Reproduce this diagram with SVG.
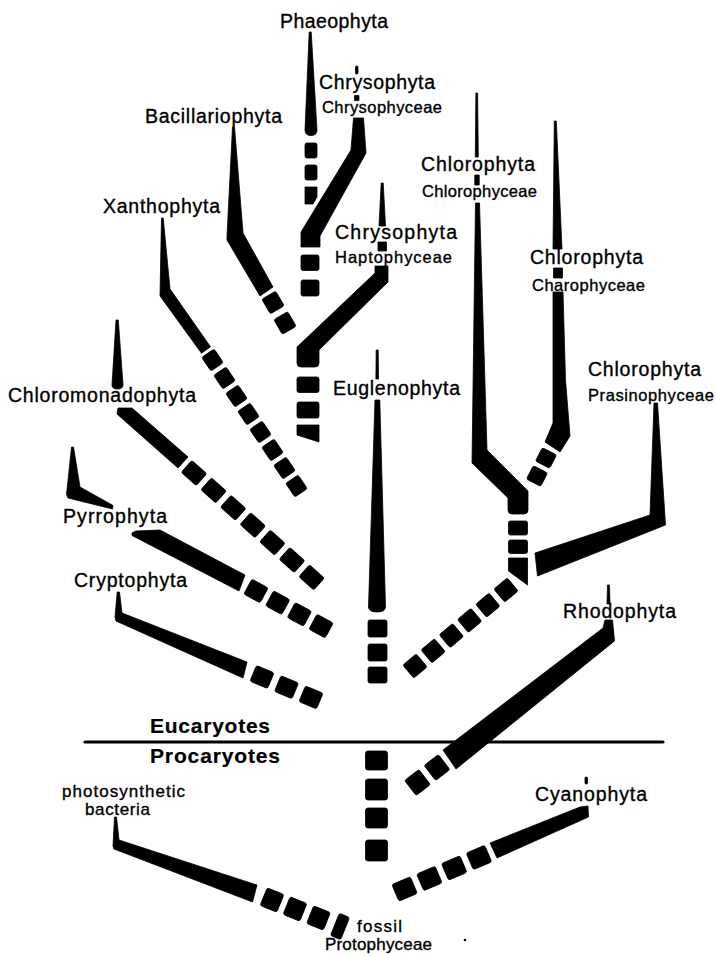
<svg xmlns="http://www.w3.org/2000/svg" width="716" height="956" viewBox="0 0 716 956">
<style>
.k{fill:#000;stroke:#000;stroke-width:0.8;stroke-linejoin:round}
.t{font-family:"Liberation Sans",Arial,Helvetica,sans-serif;font-size:19.5px;fill:#000;stroke:#000;stroke-width:0.35}
.s{font-size:16.5px}
.m{font-size:17px}
.b{font-weight:bold;font-size:21px;stroke-width:0.2}
.ln{stroke:#000;stroke-width:3.2;stroke-linecap:round;fill:none}
</style>
<rect width="716" height="956" fill="#fff"/>

<g id="divider">
<line class="ln" x1="85" y1="742" x2="663" y2="742"/>
<text class="t b" x="150" y="733" textLength="120" lengthAdjust="spacing">Eucaryotes</text>
<text class="t b" x="150" y="763" textLength="130" lengthAdjust="spacing">Procaryotes</text>
</g>

<g id="phaeophyta">
<text class="t" x="280" y="28" textLength="108" lengthAdjust="spacing">Phaeophyta</text>
<path class="k" d="M309.2,32 L311.2,32 L317,130 Q317,135.5 311,135.5 Q305,135.5 305,130 Z"/>
</g>

<g id="chrysophyceae">
<rect class="k" x="355.5" y="66" width="2.5" height="8" rx="1"/>
<text class="t" x="319" y="89" textLength="116" lengthAdjust="spacing">Chrysophyta</text>
<rect class="k" x="354.5" y="95.5" width="4.5" height="5"/>
<text class="t s" x="322" y="113" textLength="120" lengthAdjust="spacing">Chrysophyceae</text>
<path class="k" d="M353.5,118 L363.5,118 L366,153 L320,236 L320,247 L301,247 L301,232 L351,150 Z"/>
</g>

<g id="haptophyceae">
<path class="k" d="M381.2,183 L383.2,183 L385.5,226 L379,226 Z"/>
<text class="t" x="335" y="239" textLength="122" lengthAdjust="spacing">Chrysophyta</text>
<rect class="k" x="378" y="242" width="8.5" height="9"/>
<text class="t s" x="335" y="263" textLength="117" lengthAdjust="spacing">Haptophyceae</text>
<path class="k" d="M375,266 L388,266 L388,282 L319,350 L319,363 Q319,367 315,367 L301,367 Q297,367 297,363 L297,347 L375,273 Z"/>
</g>

<g id="bacillariophyta">
<text class="t" x="145" y="123" textLength="137" lengthAdjust="spacing">Bacillariophyta</text>
<path class="k" d="M232.5,127 L234.5,127 L243,233 L273,287 L260,296 L227,240 L227,236 Z"/>
</g>

<g id="xanthophyta">
<text class="t" x="103" y="213" textLength="117" lengthAdjust="spacing">Xanthophyta</text>
<path class="k" d="M161.5,218 L163.2,218 L170,289 L210.5,346.8 L201.5,353.2 L160,296 Z"/>
</g>

<g id="chloromonadophyta">
<path class="k" d="M116,320 L118.3,320 L123,385 Q123,389 117.5,389 Q112,389 112,385 Z"/>
<text class="t" x="8" y="402" textLength="188" lengthAdjust="spacing">Chloromonadophyta</text>
<path class="k" d="M118,408 L132,408 L188,457 L178,468 L117,414 Z"/>
</g>

<g id="pyrrophyta">
<path class="k" d="M71.5,447 L73.5,447 L80,487 L113,505.5 L112.5,509 L68,498 L66.5,494.5 Z"/>
<text class="t" x="63" y="523" textLength="104" lengthAdjust="spacing">Pyrrophyta</text>
<path class="k" d="M132,533 L136,531 L160,530 L245,575 L239,591 L132,535.5 Z"/>
</g>

<g id="cryptophyta">
<text class="t" x="74" y="587" textLength="113" lengthAdjust="spacing">Cryptophyta</text>
<path class="k" d="M117.2,592 L119.5,592 L122,613 L247,662 L243,678 L116,621 L115,617 Z"/>
</g>

<g id="euglenophyta">
<path class="k" d="M376.2,350 L378.2,350 L378.5,379 L375.9,379 Z"/>
<text class="t" x="333" y="395" textLength="127" lengthAdjust="spacing">Euglenophyta</text>
<path class="k" d="M375,400 L379.8,400 L385.5,607 Q385.5,612 377,612 Q368.5,612 368.5,607 Z"/>
</g>

<g id="chlorophyceae">
<path class="k" d="M475.9,93 L477.6,93 L478.3,157 L475.3,157 Z"/>
<text class="t" x="421" y="171" textLength="114" lengthAdjust="spacing">Chlorophyta</text>
<rect class="k" x="474.8" y="175" width="4.4" height="10"/>
<text class="t s" x="422" y="197" textLength="115" lengthAdjust="spacing">Chlorophyceae</text>
<path class="k" d="M475.5,203 L479.5,203 L487,450 L528,491 L528,510 Q528,514 524,514 L512,514 Q508,514 508,510 L508,498 L472,463 Z"/>
</g>

<g id="charophyceae">
<path class="k" d="M554.3,121 L556.3,121 L562,249 L553,249 Z"/>
<text class="t" x="530" y="264" textLength="113" lengthAdjust="spacing">Chlorophyta</text>
<rect class="k" x="553.5" y="268" width="9" height="10"/>
<text class="t s" x="532" y="291" textLength="113" lengthAdjust="spacing">Charophyceae</text>
<path class="k" d="M553,292 L563,292 L565.5,380 L570,436 L560,452 L545,442 L553,423 Z"/>
</g>

<g id="prasinophyceae">
<text class="t" x="588" y="376" textLength="113" lengthAdjust="spacing">Chlorophyta</text>
<text class="t s" x="588" y="401" textLength="126" lengthAdjust="spacing">Prasinophyceae</text>
<path class="k" d="M654,403 L657.5,403 L665.5,525 L537.5,576 L535,553 L650,515 Z"/>
</g>

<g id="rhodophyta">
<path class="k" d="M607.5,585 L609.5,585 L610,604 L607,604 Z"/>
<text class="t" x="563" y="618" textLength="113" lengthAdjust="spacing">Rhodophyta</text>
<path class="k" d="M605,620 L612.5,620 L614.5,641 L456,769 L443,750 L603,628 Z"/>
</g>

<g id="cyanophyta">
<rect class="k" x="585" y="777" width="2.5" height="7" rx="1"/>
<text class="t" x="535" y="801" textLength="112" lengthAdjust="spacing">Cyanophyta</text>
<path class="k" d="M580,807 L588,806 L588.5,817 L497,858 L490,843 Z"/>
</g>

<g id="photosynthetic-bacteria">
<text class="t m" x="62" y="797" textLength="123" lengthAdjust="spacing">photosynthetic</text>
<text class="t m" x="85" y="815" textLength="65" lengthAdjust="spacing">bacteria</text>
<path class="k" d="M114.5,817 L116.5,817 L119,840 L257,885 L252.5,902 L114,849 L113,846 Z"/>
</g>

<g id="protophyceae">
<text class="t m" x="357" y="932" textLength="45" lengthAdjust="spacing">fossil</text>
<text class="t m" x="325" y="950" textLength="107" lengthAdjust="spacing">Protophyceae</text>
<circle cx="465" cy="940" r="1.3" fill="#000"/>
</g>

<g id="connectors">
<!-- Phaeophyta trunk -->
<rect class="k" x="305" y="143" width="12" height="15" rx="2"/>
<rect class="k" x="305" y="165" width="12" height="15" rx="2"/>
<path class="k" d="M305,187 L317,187 L317,197 L313,204 L305,204 Z"/>
<rect class="k" x="301" y="255" width="18" height="15.5" rx="2"/>
<rect class="k" x="301" y="280" width="18" height="16" rx="2"/>
<rect class="k" x="297" y="377" width="22" height="15.5" rx="2"/>
<rect class="k" x="297" y="402" width="22" height="16" rx="2"/>
<path class="k" d="M297,425 L319,425 L319,442 L297,435 Z"/>
<!-- Bacillariophyta -->
<g transform="translate(273 302.5) rotate(59.7)"><rect class="k" x="-8.5" y="-8" width="17" height="16" rx="2"/></g>
<g transform="translate(285 323) rotate(59.7)"><rect class="k" x="-8.5" y="-8" width="17" height="16" rx="2"/></g>
<!-- Xanthophyta -->
<g transform="translate(212.5 360) rotate(56.3)"><rect class="k" x="-8.25" y="-7.5" width="16.5" height="15" rx="2"/></g>
<g transform="translate(224.5 378) rotate(56.3)"><rect class="k" x="-8.25" y="-7.5" width="16.5" height="15" rx="2"/></g>
<g transform="translate(236.5 396) rotate(56.3)"><rect class="k" x="-8.25" y="-7.5" width="16.5" height="15" rx="2"/></g>
<g transform="translate(248.5 414) rotate(56.3)"><rect class="k" x="-8.25" y="-7.5" width="16.5" height="15" rx="2"/></g>
<g transform="translate(260.5 432) rotate(56.3)"><rect class="k" x="-8.25" y="-7.5" width="16.5" height="15" rx="2"/></g>
<g transform="translate(272.5 450) rotate(56.3)"><rect class="k" x="-8.25" y="-7.5" width="16.5" height="15" rx="2"/></g>
<g transform="translate(284.5 468) rotate(56.3)"><rect class="k" x="-8.25" y="-7.5" width="16.5" height="15" rx="2"/></g>
<g transform="translate(296.5 486) rotate(56.3)"><rect class="k" x="-8.25" y="-7.5" width="16.5" height="15" rx="2"/></g>
<!-- Chloromonadophyta -->
<g transform="translate(194 473) rotate(41.6)"><rect class="k" x="-10" y="-8" width="20" height="16" rx="2"/></g>
<g transform="translate(213.6 490.4) rotate(41.6)"><rect class="k" x="-10" y="-8" width="20" height="16" rx="2"/></g>
<g transform="translate(233.2 507.8) rotate(41.6)"><rect class="k" x="-10" y="-8" width="20" height="16" rx="2"/></g>
<g transform="translate(252.8 525.2) rotate(41.6)"><rect class="k" x="-10" y="-8" width="20" height="16" rx="2"/></g>
<g transform="translate(272.4 542.6) rotate(41.6)"><rect class="k" x="-10" y="-8" width="20" height="16" rx="2"/></g>
<g transform="translate(292 560) rotate(41.6)"><rect class="k" x="-10" y="-8" width="20" height="16" rx="2"/></g>
<g transform="translate(311.6 577.4) rotate(41.6)"><rect class="k" x="-10" y="-8" width="20" height="16" rx="2"/></g>
<!-- Pyrrophyta -->
<g transform="translate(256 591) rotate(28.3)"><rect class="k" x="-9.25" y="-8.5" width="18.5" height="17" rx="2"/></g>
<g transform="translate(277.7 602.7) rotate(28.3)"><rect class="k" x="-9.25" y="-8.5" width="18.5" height="17" rx="2"/></g>
<g transform="translate(299.4 614.4) rotate(28.3)"><rect class="k" x="-9.25" y="-8.5" width="18.5" height="17" rx="2"/></g>
<g transform="translate(321.1 626.1) rotate(28.3)"><rect class="k" x="-9.25" y="-8.5" width="18.5" height="17" rx="2"/></g>
<!-- Cryptophyta -->
<g transform="translate(262 677) rotate(22.6)"><rect class="k" x="-9.5" y="-8.5" width="19" height="17" rx="2"/></g>
<g transform="translate(286.5 687.2) rotate(22.6)"><rect class="k" x="-9.5" y="-8.5" width="19" height="17" rx="2"/></g>
<g transform="translate(311 697.4) rotate(22.6)"><rect class="k" x="-9.5" y="-8.5" width="19" height="17" rx="2"/></g>
<!-- Euglenophyta / central column -->
<rect class="k" x="368" y="620" width="19" height="17" rx="2"/>
<rect class="k" x="368" y="644" width="19" height="17" rx="2"/>
<rect class="k" x="368" y="667" width="19" height="16" rx="2"/>
<rect class="k" x="365.5" y="751" width="22" height="19" rx="2.5"/>
<rect class="k" x="365.5" y="779" width="22" height="21" rx="2.5"/>
<rect class="k" x="365.5" y="808" width="22" height="20" rx="2.5"/>
<rect class="k" x="365.5" y="840" width="22" height="21" rx="2.5"/>
<!-- Chlorophyta trunk -->
<rect class="k" x="508.5" y="521" width="19" height="14" rx="2"/>
<rect class="k" x="508.5" y="540" width="19" height="13.5" rx="2"/>
<path class="k" d="M508.5,558 L527.5,558 L527.5,585 L508.5,571 Z"/>
<g transform="translate(506 590) rotate(140.1)"><rect class="k" x="-8.75" y="-8.5" width="17.5" height="17" rx="2"/></g>
<g transform="translate(487.8 605.2) rotate(140.1)"><rect class="k" x="-8.75" y="-8.5" width="17.5" height="17" rx="2"/></g>
<g transform="translate(469.6 620.4) rotate(140.1)"><rect class="k" x="-8.75" y="-8.5" width="17.5" height="17" rx="2"/></g>
<g transform="translate(451.4 635.6) rotate(140.1)"><rect class="k" x="-8.75" y="-8.5" width="17.5" height="17" rx="2"/></g>
<g transform="translate(433.2 650.8) rotate(140.1)"><rect class="k" x="-8.75" y="-8.5" width="17.5" height="17" rx="2"/></g>
<g transform="translate(415 666) rotate(140.1)"><rect class="k" x="-8.75" y="-8.5" width="17.5" height="17" rx="2"/></g>
<!-- Charophyceae -->
<g transform="translate(546 458) rotate(117)"><rect class="k" x="-7.5" y="-8" width="15" height="16" rx="2"/></g>
<g transform="translate(537 476) rotate(117)"><rect class="k" x="-7.5" y="-8" width="15" height="16" rx="2"/></g>
<!-- Rhodophyta -->
<g transform="translate(437 767.5) rotate(142.4)"><rect class="k" x="-9" y="-9.5" width="18" height="19" rx="2"/></g>
<g transform="translate(417.5 782.5) rotate(142.4)"><rect class="k" x="-9" y="-9.5" width="18" height="19" rx="2"/></g>
<!-- Cyanophyta -->
<g transform="translate(479 857.5) rotate(157)"><rect class="k" x="-10" y="-9" width="20" height="18" rx="2"/></g>
<g transform="translate(454.2 868) rotate(157)"><rect class="k" x="-10" y="-9" width="20" height="18" rx="2"/></g>
<g transform="translate(429.4 878.5) rotate(157)"><rect class="k" x="-10" y="-9" width="20" height="18" rx="2"/></g>
<g transform="translate(404.6 889) rotate(157)"><rect class="k" x="-10" y="-9" width="20" height="18" rx="2"/></g>
<!-- photosynthetic bacteria -->
<g transform="translate(272 900) rotate(21.8)"><rect class="k" x="-9" y="-9.5" width="18" height="19" rx="2"/></g>
<g transform="translate(295 909) rotate(21.8)"><rect class="k" x="-9" y="-9.5" width="18" height="19" rx="2"/></g>
<g transform="translate(318.5 918) rotate(21.8)"><rect class="k" x="-9" y="-9.5" width="18" height="19" rx="2"/></g>
<g transform="translate(340 926.5) rotate(21.8)"><rect class="k" x="-5.5" y="-12" width="11" height="24" rx="2"/></g>
</g>
</svg>
